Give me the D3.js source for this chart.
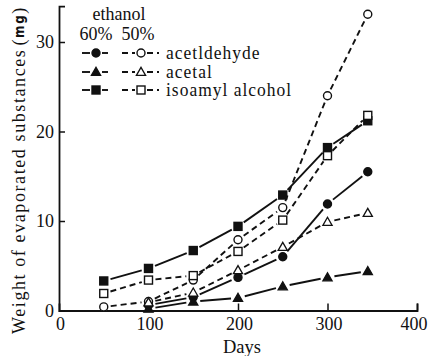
<!DOCTYPE html>
<html>
<head>
<meta charset="utf-8">
<script src="https://cdn.jsdelivr.net/npm/d3@7"></script>
<style>
  html, body { margin: 0; padding: 0; background: #fff; }
  svg text { font-family: "Liberation Serif", "DejaVu Serif", serif; fill: #111; }
</style>
</head>
<body>
<svg id="chart" width="428" height="356"></svg>
<script>
// Sampling days
const days = [50, 100, 150, 200, 250, 300, 345];

// Weight of evaporated substances (mg), per ethanol concentration
const acetaldehyde60 = [null, 0.6, 1.5, 3.7, 6.0, 11.9, 15.5];
const acetaldehyde50 = [0.4, 1.0, 3.4, 7.9, 11.5, 24.0, 33.1];
const acetal60       = [null, 0.2, 1.0, 1.4, 2.7, 3.7, 4.4];
const acetal50       = [null, 0.9, 2.0, 4.5, 7.1, 9.9, 10.9];
const isoamyl60      = [3.3, 4.7, 6.7, 9.4, 12.9, 18.2, 21.2];
const isoamyl50      = [1.9, 3.4, 3.9, 6.6, 10.1, 17.3, 21.8];

const xTicks = [0, 100, 200, 300, 400];
const yTicks = [0, 10, 20, 30];
const substances = ["acetldehyde", "acetal", "isoamyl alcohol"];

const series = [
  { name: "acetldehyde", conc: 60, values: acetaldehyde60, shape: "circle",   filled: true },
  { name: "acetldehyde", conc: 50, values: acetaldehyde50, shape: "circle",   filled: false },
  { name: "acetal",      conc: 60, values: acetal60,       shape: "triangle", filled: true },
  { name: "acetal",      conc: 50, values: acetal50,       shape: "triangle", filled: false },
  { name: "isoamyl alcohol", conc: 60, values: isoamyl60,  shape: "square",   filled: true },
  { name: "isoamyl alcohol", conc: 50, values: isoamyl50,  shape: "square",   filled: false }
];

const svg = d3.select("#chart");
const ink = "#111";

const x = d3.scaleLinear().domain([0, 400]).range([59, 417]);
const y = d3.scaleLinear().domain([0, 34]).range([310.5, 6.2]);

// Text helper: slightly tall serif lettering
function label(g, tx, ty, str, opts = {}) {
  return g.append("g").attr("transform", `translate(${tx},${ty}) scale(1,${opts.sy || 1.1})`)
    .append("text")
    .attr("text-anchor", opts.anchor || "start")
    .style("font-size", (opts.size || 18) + "px")
    .style("letter-spacing", (opts.ls || 0) + "px")
    .text(str);
}

// Axes
const xAxis = d3.axisBottom(x).tickValues(xTicks.slice(1)).tickSize(-7).tickFormat("");
const gx = svg.append("g").attr("transform", `translate(0,${y(0)})`).call(xAxis);
const yAxis = d3.axisLeft(y).tickValues(yTicks).tickSize(-6).tickFormat("");
const gy = svg.append("g").attr("transform", `translate(${x(0)},0)`).call(yAxis);
[gx, gy].forEach(g => {
  g.select(".domain").attr("stroke", ink).attr("stroke-width", 1.8);
  g.selectAll(".tick line").attr("stroke", ink).attr("stroke-width", 1.5);
});

const labels = svg.append("g");
xTicks.forEach(v => label(labels, Math.min(x(v) + 1.5, 414), 330, String(v), { anchor: "middle" }));
yTicks.forEach(v => label(labels, 54, y(v) + 6, String(v), { anchor: "end" }));
label(labels, 242, 353, "Days", { anchor: "middle", size: 18.5, sy: 1.05 });

// Rotated y title
const yt = svg.append("g").attr("transform", "translate(25,170) rotate(-90) scale(1,1.1)")
  .append("text").attr("text-anchor", "middle")
  .style("font-size", "18px").style("letter-spacing", "1.6px");
yt.append("tspan").text("Weight of evaporated substances");
yt.append("tspan").attr("dx", 3).text("(");
yt.append("tspan").style("font-size", "12px").style("font-weight", "bold")
  .style("font-family", "DejaVu Sans").attr("dy", -1).text("mg");
yt.append("tspan").attr("dy", 1).text(")");

// Marker drawing
function marker(g, shape, filled, cx, cy) {
  const fill = filled ? ink : "#fff";
  if (shape === "circle") {
    g.append("circle").attr("cx", cx).attr("cy", cy).attr("r", 4)
      .attr("fill", fill).attr("stroke", ink).attr("stroke-width", 1.4);
  } else if (shape === "square") {
    g.append("rect").attr("x", cx - 4).attr("y", cy - 4).attr("width", 8).attr("height", 8)
      .attr("fill", fill).attr("stroke", ink).attr("stroke-width", 1.4);
  } else {
    const s = 4.6;
    g.append("path").attr("d", `M${cx},${cy - s}L${cx + s},${cy + s * 0.75}L${cx - s},${cy + s * 0.75}Z`)
      .attr("fill", fill).attr("stroke", ink).attr("stroke-width", 1.3);
  }
}

// Segments stop short of each marker, leaving a small gap
function gappedSegments(g, pts, dashed, gap) {
  for (let i = 1; i < pts.length; i++) {
    const [x0, y0] = pts[i - 1], [x1, y1] = pts[i];
    const len = Math.hypot(x1 - x0, y1 - y0);
    if (len <= 2 * gap) continue;
    const ux = (x1 - x0) / len, uy = (y1 - y0) / len;
    g.append("line")
      .attr("x1", x0 + ux * gap).attr("y1", y0 + uy * gap)
      .attr("x2", x1 - ux * gap).attr("y2", y1 - uy * gap)
      .attr("stroke", ink).attr("stroke-width", 1.9)
      .attr("stroke-dasharray", dashed ? "6,4" : null);
  }
}

const plot = svg.append("g");
series.forEach(s => {
  const pts = days.map((d, i) => [d, s.values[i]]).filter(p => p[1] != null)
    .map(p => [x(p[0]), y(p[1])]);
  gappedSegments(plot, pts, s.conc === 50, 7);
});
series.forEach(s => {
  days.forEach((d, i) => {
    if (s.values[i] != null) marker(plot, s.shape, s.filled, x(d), y(s.values[i]));
  });
});

// Legend
const lg = svg.append("g");
label(lg, 119, 20, "ethanol", { anchor: "middle", size: 18 });
label(lg, 96, 40, "60%", { anchor: "middle", size: 18 });
label(lg, 138, 40, "50%", { anchor: "middle", size: 18 });
const legendShapes = ["circle", "triangle", "square"];
const rowY = [53, 72, 90];
substances.forEach((name, i) => {
  const yy = rowY[i];
  gappedSegments(lg, [[76, yy], [96, yy], [114, yy]], false, 6);
  marker(lg, legendShapes[i], true, 96, yy);
  gappedSegments(lg, [[116, yy], [141, yy], [165, yy]], true, 6);
  marker(lg, legendShapes[i], false, 141, yy);
  label(lg, 166, yy + 5.5, name, { size: 17.5, ls: 1, sy: 1.02 });
});
</script>
</body>
</html>
